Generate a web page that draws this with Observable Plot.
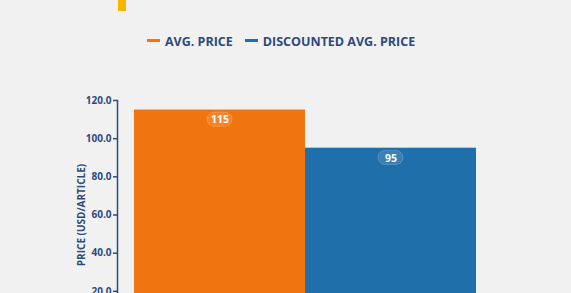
<!DOCTYPE html>
<html>
<head>
<meta charset="utf-8">
<script src="https://cdn.jsdelivr.net/npm/d3@7"></script>
<script src="https://cdn.jsdelivr.net/npm/@observablehq/plot@0.6"></script>
<style>
  html, body { margin: 0; padding: 0; background: #f1f1f1; overflow: hidden; }
  body { width: 571px; height: 293px; position: relative; font-family: "Open Sans", sans-serif; }
  #deco { position: absolute; left: 118px; top: 0; width: 8px; height: 11px; background: #f7b500; }
  #legend { position: absolute; left: 147px; top: 31px; height: 20px; display: flex; align-items: center; color: #2d4a7c; font-weight: 700; font-size: 12.5px; white-space: nowrap; }
  .item { display: flex; align-items: center; margin-right: 12px; }
  .sw { width: 13px; height: 3.5px; margin-right: 5px; margin-top: -1px; }
  #chart { position: absolute; left: 0; top: 80px; }
</style>
</head>
<body>
<div id="deco"></div>
<div id="legend"></div>
<div id="chart"></div>
<script>
const categories = ["AVG. PRICE", "DISCOUNTED AVG. PRICE"];
const values = [115, 95];
const colors = ["#f07511", "#1f6faa"];
const yTicks = [0, 20, 40, 60, 80, 100, 120];

const data = categories.map((c, i) => ({ category: c, value: values[i] }));

const legend = document.getElementById("legend");
categories.forEach((c, i) => {
  const it = document.createElement("div");
  it.className = "item";
  const sw = document.createElement("div");
  sw.className = "sw";
  sw.style.background = colors[i];
  const t = document.createElement("span");
  t.textContent = c;
  it.appendChild(sw); it.appendChild(t);
  legend.appendChild(it);
});

const navy = "#2d4a7c";
const plot = Plot.plot({
  width: 571,
  height: 279,
  marginTop: 20,
  marginBottom: 30,
  marginLeft: 117,
  marginRight: 79,
  style: { background: "transparent", fontFamily: "Open Sans, sans-serif" },
  x: { domain: categories, paddingInner: 0, paddingOuter: 0.093, axis: null },
  y: { domain: [0, 120] },
  color: { domain: categories, range: colors },
  marks: [
    Plot.barY(data, { x: "category", y: "value", fill: "category" }),
    Plot.barY(data, {
      x: "category", y1: d => d.value - 8.8, y2: d => d.value - 1.4,
      insetLeft: 73, insetRight: 73, rx: 7,
      fill: "white", fillOpacity: 0.12, stroke: "white", strokeOpacity: 0.18
    }),
    Plot.text(data, {
      x: "category", y: "value", text: d => String(d.value), dy: 10,
      fill: "white", fontWeight: 700, fontSize: 10.5
    }),
    Plot.frame({ anchor: "left", stroke: navy, strokeWidth: 1.5 }),
    Plot.axisY({
      ticks: yTicks, tickFormat: d => d.toFixed(1), tickSize: 4, tickPadding: 2,
      stroke: navy, strokeWidth: 1.5, color: navy, fill: navy, fontWeight: 700, fontSize: 10,
      label: "PRICE (USD/ARTICLE)", labelAnchor: "center", labelArrow: "none", labelOffset: 40
    })
  ]
});
document.getElementById("chart").appendChild(plot);
</script>
</body>
</html>
